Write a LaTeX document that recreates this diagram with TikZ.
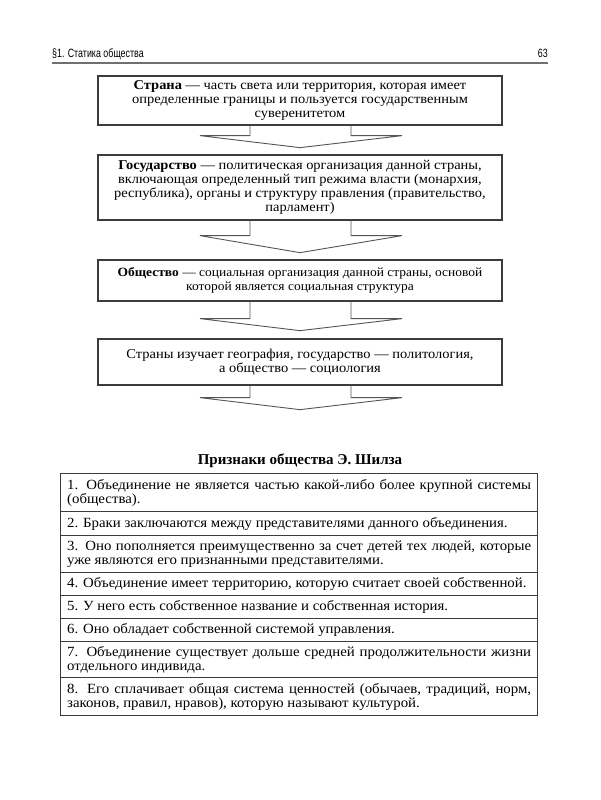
\documentclass[tikz,border=0pt]{standalone}
\usepackage{fontspec}
\setmainfont{Liberation Serif}
\newfontfamily\hdrfont[FakeStretch=0.74]{Liberation Sans}
\newfontfamily\boxfont[FakeStretch=1.07]{Liberation Serif}
\newfontfamily\rowfont[FakeStretch=1.06]{Liberation Serif}
\usetikzlibrary{calc}
\definecolor{boxline}{HTML}{3C3C3C}
\definecolor{arrline}{HTML}{555555}
\definecolor{hdrline}{HTML}{707070}
\newcommand\blkarrow[3]{%
  \draw[arrowline] ($(#1.south)+(-50,0)$) -- ($(#1.south)+(-50,#2)$) -- ($(#1.south)+(-100,#2)$)
    -- ($(#1.south)+(0,#3)$) -- ($(#1.south)+(102,#2)$) -- ($(#1.south)+(51,#2)$) -- ($(#1.south)+(51,0)$);}
\begin{document}
\begin{tikzpicture}[x=1pt,y=-1pt,
  box/.style={draw=boxline, line width=1.3pt, fill=white, minimum width=404pt, align=center,
    font=\boxfont\fontsize{13.5}{14}\selectfont, inner sep=2pt},
  arrowline/.style={draw=arrline, line width=0.9pt, line join=miter},
  row/.style={draw=boxline, line width=1.3pt, anchor=north west, text width=464pt, inner xsep=6.5pt,
    inner ysep=1pt, align=justify, font=\rowfont\fontsize{14}{14}\selectfont},
  hdr/.style={font=\hdrfont\fontsize{12}{14}\selectfont, inner sep=0pt},
  ttl/.style={font=\bfseries\fontsize{15}{16}\selectfont, inner sep=0pt}]
\useasboundingbox (0,0) rectangle (600,800);
\fill[white] (0,0) rectangle (600,800);
% header
\node[hdr, anchor=base west] (h1) at (52,57) {§1. Статика общества};
\node[hdr, anchor=base east] (h2) at (548,57) {63};
\draw[hdrline, line width=2.4pt] ($(h1.base west)+(0,6)$) -- ($(h2.base east)+(0,6)$);
% boxes
\node[box, minimum height=49pt] (b1) at (300,100.5) {\textbf{Страна} — часть света или территория, которая имеет\\определенные границы и пользуется государственным\\суверенитетом};
\node[box, minimum height=65pt] (b2) at (300,187.5) {\textbf{Государство} — политическая организация данной страны,\\включающая определенный тип режима власти (монархия,\\республика), органы и структуру правления (правительство,\\парламент)};
\node[box, minimum height=41pt, font=\boxfont\fontsize{12.6}{14}\selectfont] (b3) at (300,280.5) {\textbf{Общество} — социальная организация данной страны, основой\\которой является социальная структура};
\node[box, minimum height=46pt] (b4) at (300,362) {Страны изучает география, государство — политология,\\а общество — социология};
\blkarrow{b1}{10}{22}
\blkarrow{b2}{15}{32}
\blkarrow{b3}{17}{29}
\blkarrow{b4}{12}{24}
% table
\node[ttl] (t) at (300,461) {Признаки общества Э. Шилза};
\node[row, minimum height=38pt] (r1) at (60,473) {1. Объединение не является частью какой-либо более крупной системы\linebreak (общества).};
\node[row, minimum height=24pt] (r2) at (60,511) {2. Браки заключаются между представителями данного объединения.};
\node[row, minimum height=37pt] (r3) at (60,535) {3. Оно пополняется преимущественно за счет детей тех людей, которые\linebreak уже являются его признанными представителями.};
\node[row, minimum height=23pt] (r4) at (60,572) {4. Объединение имеет территорию, которую считает своей собственной.};
\node[row, minimum height=23pt] (r5) at (60,595) {5. У него есть собственное название и собственная история.};
\node[row, minimum height=23pt] (r6) at (60,618) {6. Оно обладает собственной системой управления.};
\node[row, minimum height=36pt] (r7) at (60,641) {7. Объединение существует дольше средней продолжительности жизни\linebreak отдельного индивида.};
\node[row, minimum height=38pt] (r8) at (60,677) {8. Его сплачивает общая система ценностей (обычаев, традиций, норм,\linebreak законов, правил, нравов), которую называют культурой.};
\end{tikzpicture}
\end{document}
